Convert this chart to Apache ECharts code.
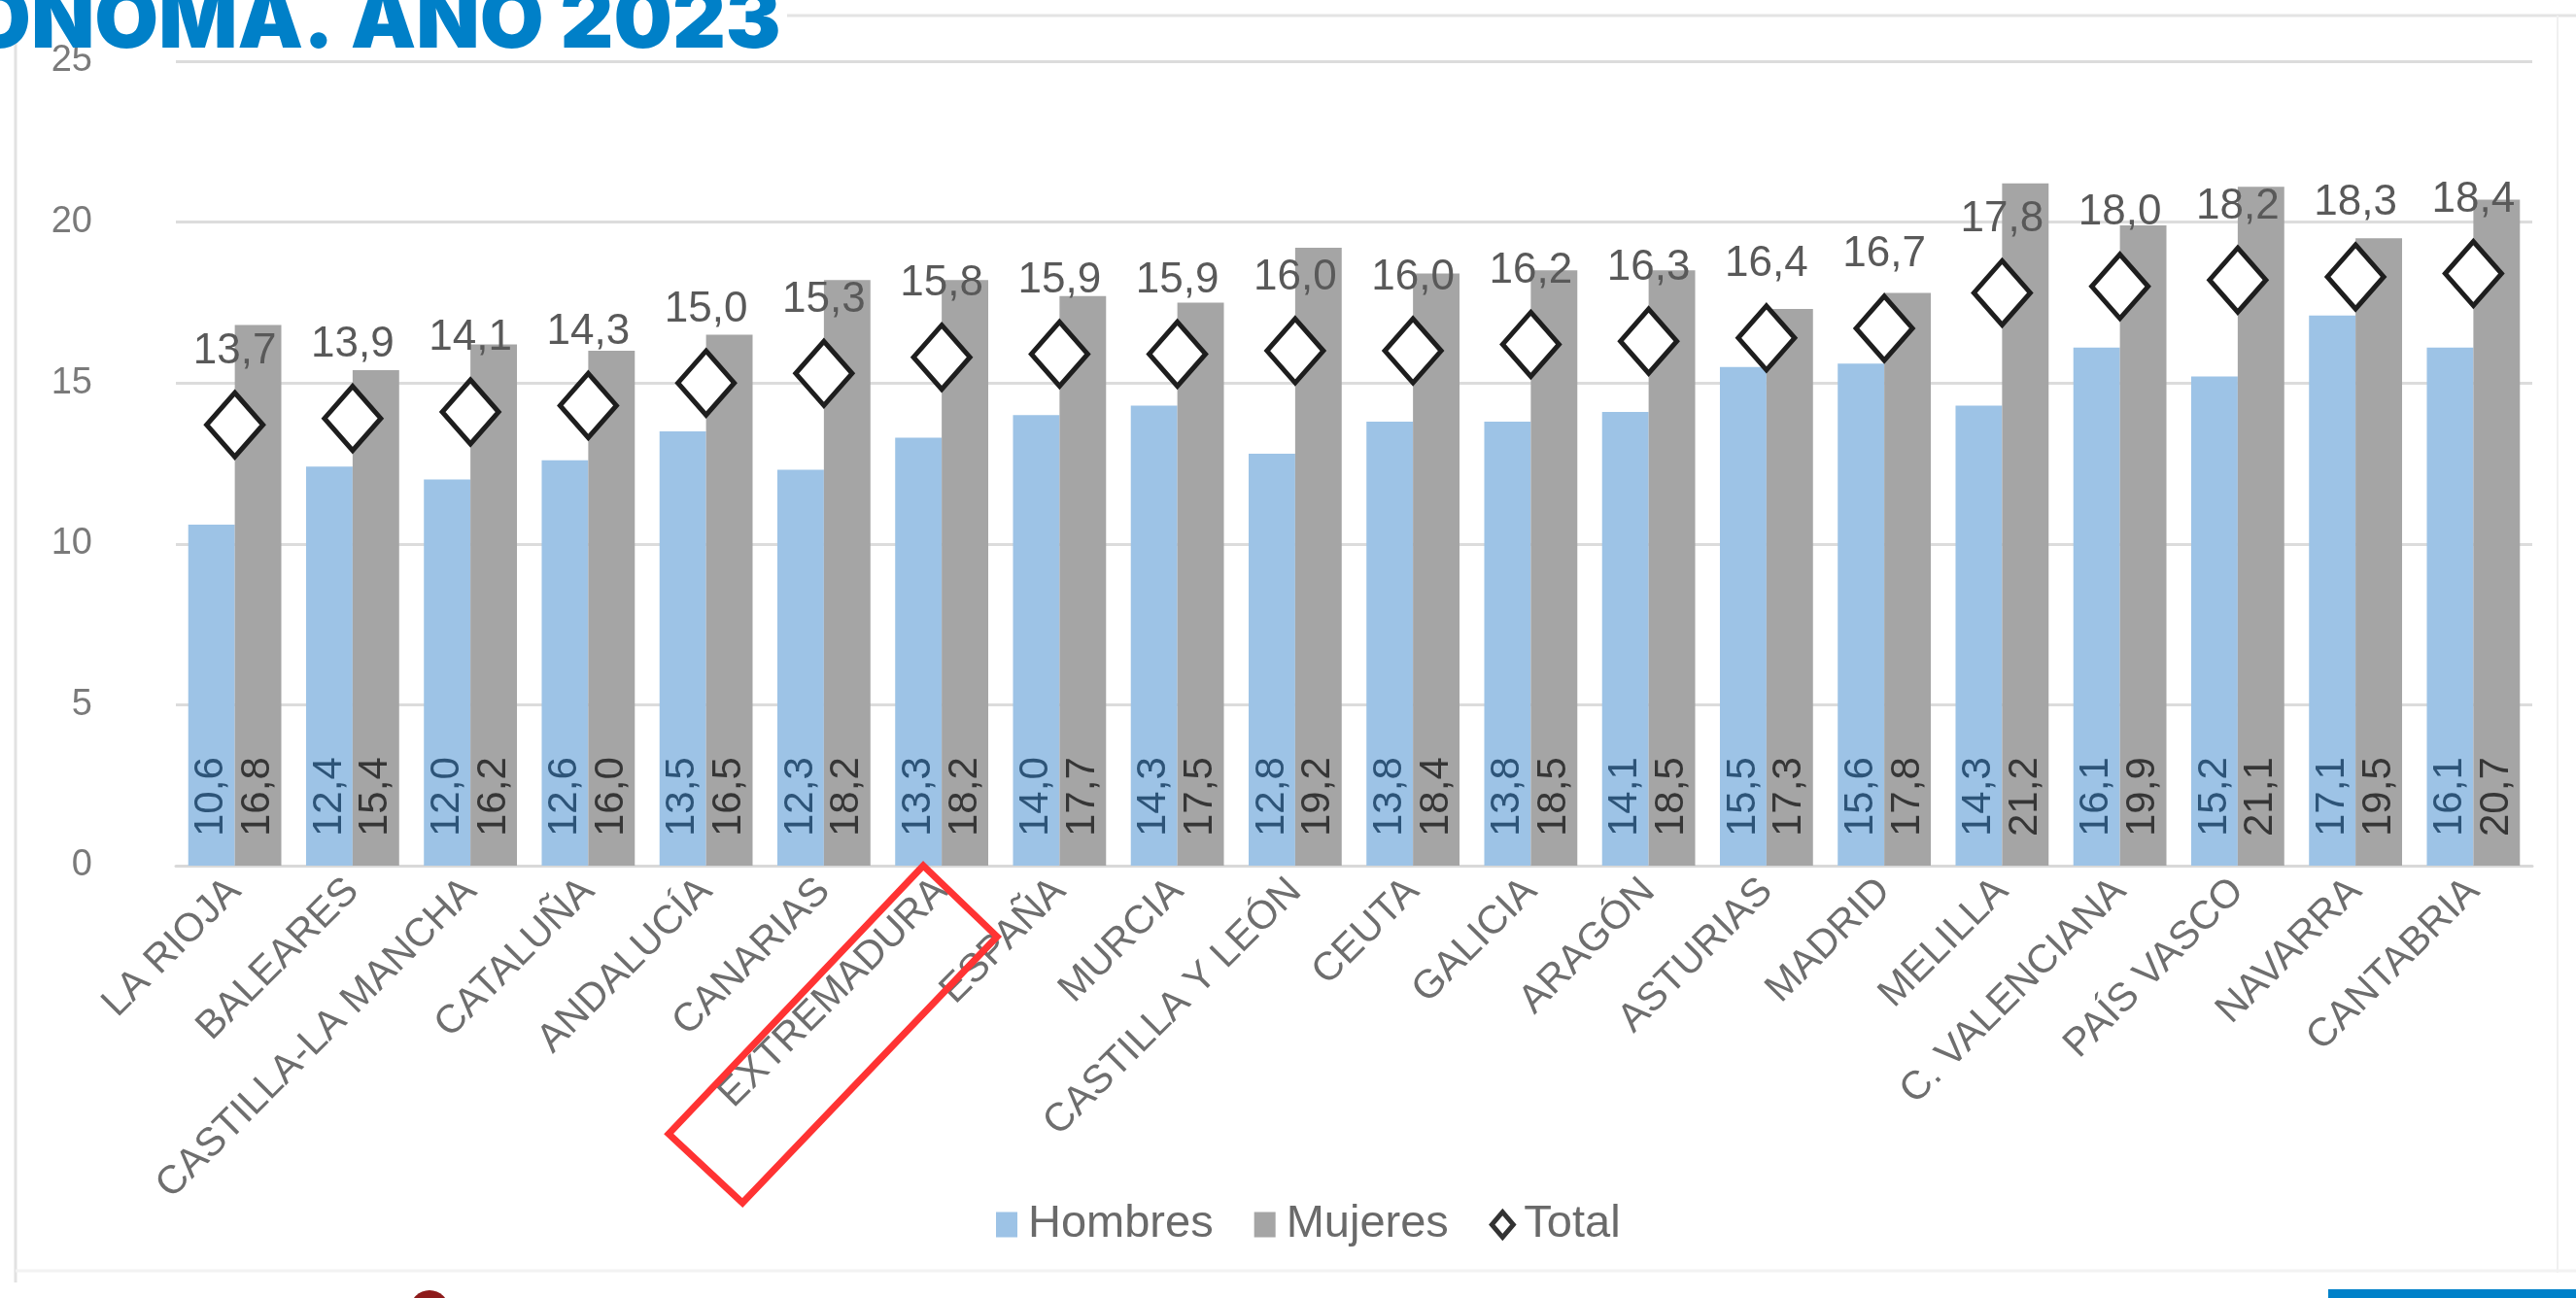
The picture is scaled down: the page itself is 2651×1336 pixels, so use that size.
<!DOCTYPE html>
<html>
<head>
<meta charset="utf-8">
<script src="https://cdn.jsdelivr.net/npm/echarts/dist/echarts.min.js"></script>
<style>
  html, body { margin: 0; padding: 0; background: #fff; }
  #main { width: 2651px; height: 1336px; }
</style>
</head>
<body>
<div id="main"></div>
<script>
// categorias (comunidades) ordenadas por total
const categorias = ['LA RIOJA', 'BALEARES', 'CASTILLA-LA MANCHA', 'CATALUÑA', 'ANDALUCÍA', 'CANARIAS', 'EXTREMADURA', 'ESPAÑA', 'MURCIA', 'CASTILLA Y LEÓN', 'CEUTA', 'GALICIA', 'ARAGÓN', 'ASTURIAS', 'MADRID', 'MELILLA', 'C. VALENCIANA', 'PAÍS VASCO', 'NAVARRA', 'CANTABRIA']
const hombres = [10.6, 12.4, 12.0, 12.6, 13.5, 12.3, 13.3, 14.0, 14.3, 12.8, 13.8, 13.8, 14.1, 15.5, 15.6, 14.3, 16.1, 15.2, 17.1, 16.1]
const mujeres = [16.8, 15.4, 16.2, 16.0, 16.5, 18.2, 18.2, 17.7, 17.5, 19.2, 18.4, 18.5, 18.5, 17.3, 17.8, 21.2, 19.9, 21.1, 19.5, 20.7]
const total = [13.7, 13.9, 14.1, 14.3, 15.0, 15.3, 15.8, 15.9, 15.9, 16.0, 16.0, 16.2, 16.3, 16.4, 16.7, 17.8, 18.0, 18.2, 18.3, 18.4]
const yTicks = { min: 0, max: 25, interval: 5 }
const destacada = 'EXTREMADURA'

const fuente = "'Liberation Sans', 'DejaVu Sans', sans-serif"
// coma decimal
const coma = v => Number(v).toFixed(1).replace('.', ',')

const chart = echarts.init(document.getElementById('main'), null, { renderer: 'canvas' })

const option = {
  backgroundColor: '#ffffff',
  animation: false,
  textStyle: { fontFamily: fuente },
  grid: { left: 181, right: 45, top: 63, bottom: 445 },
  legend: {
    left: 1020,
    top: 1232,
    itemGap: 42,
    itemWidth: 22,
    itemHeight: 26,
    textStyle: { fontSize: 47, color: '#6a6a6a', fontFamily: fuente, padding: [0, 0, 0, 6] },
    data: [
      { name: 'Hombres', icon: 'rect' },
      { name: 'Mujeres', icon: 'rect' },
      { name: 'Total', icon: 'diamond', itemStyle: { color: '#fff', borderColor: '#333', borderWidth: 5 } }
    ]
  },
  xAxis: {
    type: 'category',
    data: categorias,
    axisTick: { show: false },
    axisLine: { lineStyle: { color: '#d9d9d9', width: 3 } },
    axisLabel: {
      rotate: 45,
      margin: 20,
      interval: 0,
      fontSize: 41,
      color: '#6e6e6e',
      fontFamily: fuente
    }
  },
  yAxis: {
    type: 'value',
    min: yTicks.min,
    max: yTicks.max,
    interval: yTicks.interval,
    axisLine: { show: false },
    axisTick: { show: false },
    axisLabel: { fontSize: 38, color: '#7a7a7a', margin: 86, fontFamily: fuente },
    splitLine: { lineStyle: { color: '#dcdcdc', width: 3 } }
  },
  series: [
    {
      name: 'Hombres',
      type: 'bar',
      data: hombres,
      barGap: '0%',
      barCategoryGap: '21%',
      itemStyle: { color: '#9dc3e6' },
      label: {
        show: true,
        position: 'insideBottom',
        rotate: 90,
        align: 'left',
        verticalAlign: 'middle',
        distance: 30,
        fontSize: 42,
        color: '#2d5478',
        fontFamily: fuente,
        formatter: p => coma(p.value)
      }
    },
    {
      name: 'Mujeres',
      type: 'bar',
      data: mujeres,
      itemStyle: { color: '#a5a5a5' },
      label: {
        show: true,
        position: 'insideBottom',
        rotate: 90,
        align: 'left',
        verticalAlign: 'middle',
        distance: 30,
        fontSize: 42,
        color: '#363636',
        fontFamily: fuente,
        formatter: p => coma(p.value)
      }
    },
    {
      name: 'Total',
      type: 'line',
      data: total,
      symbol: 'diamond',
      symbolSize: [58, 66],
      lineStyle: { width: 0, opacity: 0 },
      itemStyle: { color: '#ffffff', borderColor: '#1e1e1e', borderWidth: 5 },
      label: {
        show: true,
        position: 'top',
        distance: 18,
        fontSize: 44,
        color: '#595959',
        fontFamily: fuente,
        formatter: p => coma(p.value)
      },
      z: 5
    }
  ],
  graphic: [
    // marco de la diapositiva
    { type: 'line', shape: { x1: 16, y1: 0, x2: 16, y2: 1320 }, style: { stroke: '#e2e2e2', lineWidth: 3 }, silent: true },
    { type: 'line', shape: { x1: 810, y1: 16, x2: 2651, y2: 16 }, style: { stroke: '#e4e4e4', lineWidth: 3 }, silent: true },
    { type: 'line', shape: { x1: 2632, y1: 16, x2: 2632, y2: 1310 }, style: { stroke: '#f0f0f0', lineWidth: 2 }, silent: true },
    { type: 'line', shape: { x1: 16, y1: 1308, x2: 2651, y2: 1308 }, style: { stroke: '#f2f2f2', lineWidth: 3 }, silent: true },
    { type: 'rect', shape: { x: 2396, y: 1327, width: 255, height: 9 }, style: { fill: '#0081c9' }, silent: true },
    { type: 'circle', shape: { cx: 442, cy: 1348, r: 20 }, style: { fill: '#8e1b1b' }, silent: true },
    // titulo recortado
    {
      type: 'text',
      left: -34,
      top: -19,
      style: {
        text: 'ONOMA. AÑO 2023',
        font: "900 85px Inter, 'DejaVu Sans', sans-serif",
        fill: '#0080c8'
      },
      z: 20
    }
  ]
}

chart.setOption(option)

// recuadro rojo alrededor de la etiqueta destacada
const p = chart.convertToPixel({ xAxisIndex: 0, yAxisIndex: 0 }, [destacada, 0])
const ax = p[0], ay = p[1]
chart.setOption({
  graphic: option.graphic.concat([{
    type: 'polygon',
    shape: { points: [[ax - 19, ay], [ax + 57, ay + 73], [ax - 205, ay + 347], [ax - 281, ay + 276]] },
    style: { fill: 'none', stroke: '#ff3333', lineWidth: 7 },
    silent: true,
    z: 20
  }])
})
</script>
</body>
</html>
